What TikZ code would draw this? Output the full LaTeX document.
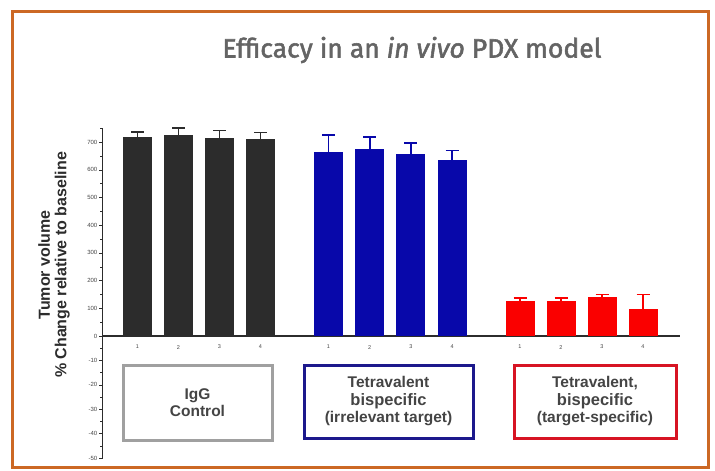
\documentclass[tikz,border=0pt]{standalone}
\usepackage{fontspec}
\setmainfont{Liberation Sans}
\newfontfamily\titlefont[FakeBold=2]{Fira Sans}

\definecolor{framec}{RGB}{204,104,36}
\definecolor{titlec}{RGB}{100,100,100}
\definecolor{txtc}{RGB}{68,68,68}
\definecolor{ctrlc}{RGB}{44,44,44}
\definecolor{irrc}{RGB}{8,8,170}
\definecolor{specc}{RGB}{250,0,0}
\definecolor{ctrlbox}{RGB}{160,160,160}
\definecolor{irrbox}{RGB}{28,24,140}
\definecolor{specbox}{RGB}{215,20,35}

\tikzset{
  ticklab/.style={left,inner sep=1pt,text=txtc,font=\fontsize{6}{6}\selectfont},
  barlab/.style={inner sep=0pt,text=txtc,font=\fontsize{5.5}{6}\selectfont},
  groupbox/.style={line width=3,align=center,text=txtc,inner sep=2pt,
    font=\bfseries\fontsize{15.5}{17.5}\selectfont},
}

\begin{document}
\begin{tikzpicture}[x=1pt,y=-1pt]
    \useasboundingbox (0,0) rectangle (715,471);
    \draw[framec,line width=3] (12.5,11.5) rectangle (708,467);
    \node (title) at (412,50) [text=titlec,font=\titlefont\fontsize{26.5}{30}\selectfont]
      {Efficacy in an \textit{in vivo} PDX model};

    % y axis
    \node (ylab) at (54,265) [rotate=90,align=center,text=ctrlc,
      font=\bfseries\fontsize{16}{16.5}\selectfont]
      {Tumor volume\\\% Change relative to baseline};
    \draw[ctrlc,line width=1.4] (102.5,128) -- (102.5,458);
    \foreach \v in {0,100,...,700}
      \draw[ctrlc] (102.5,{336-0.2771*\v}) -- ++(-4,0) node[ticklab] {\v};
    \foreach \v in {50,150,...,750}
      \draw[ctrlc] (102.5,{336-0.2771*\v}) -- ++(-2.5,0);
    \foreach \k in {1,...,5}
      \draw[ctrlc] (102.5,{336+24.4*\k}) -- ++(-4,0) node[ticklab] {-\k0};
    \foreach \k in {0.5,1.5,...,4.5}
      \draw[ctrlc] (102.5,{336+24.4*\k}) -- ++(-2.5,0);
    \draw[ctrlc,line width=1.8] (102.5,336) -- (680,336);

    % bars
    \scope[shift={(0,336)},yscale=-0.2771]
    \foreach \x/\v/\e/\n/\c in {137.5/717/736/1/ctrlc, 178.5/724/750/2/ctrlc,
        219.5/714/741/3/ctrlc, 260.5/712/735/4/ctrlc,
        328.5/664/725/1/irrc, 369.7/676/719/2/irrc,
        410.9/658/696/3/irrc, 452.1/635/669/4/irrc,
        520/127/137/1/specc, 561/127/137/2/specc,
        602/140/150/3/specc, 643/98/150/4/specc} {
      \fill[\c] (\x-14.5,0) rectangle (\x+14.5,\v);
      \draw[\c,line width=1.6] (\x,\v) -- (\x,\e) +(-6.5,0) -- +(6.5,0);
      \node[barlab] at (\x,-40) {\n};
    }
    \endscope

    % legend boxes
    \node (ctrl) at (197.5,402.5) [groupbox,draw=ctrlbox,minimum width=149,minimum height=75]
      {IgG\\Control};
    \node (irr) at (388.5,401.5) [groupbox,draw=irrbox,minimum width=169,minimum height=73]
      {Tetravalent\\{\fontsize{16.5}{17.5}\selectfont bispecific}\\(irrelevant target)};
    \node (spec) at (595,401.5) [groupbox,draw=specbox,minimum width=162,minimum height=73]
      {Tetravalent,\\{\fontsize{16.5}{17.5}\selectfont bispecific}\\(target-specific)};
\end{tikzpicture}
\end{document}
